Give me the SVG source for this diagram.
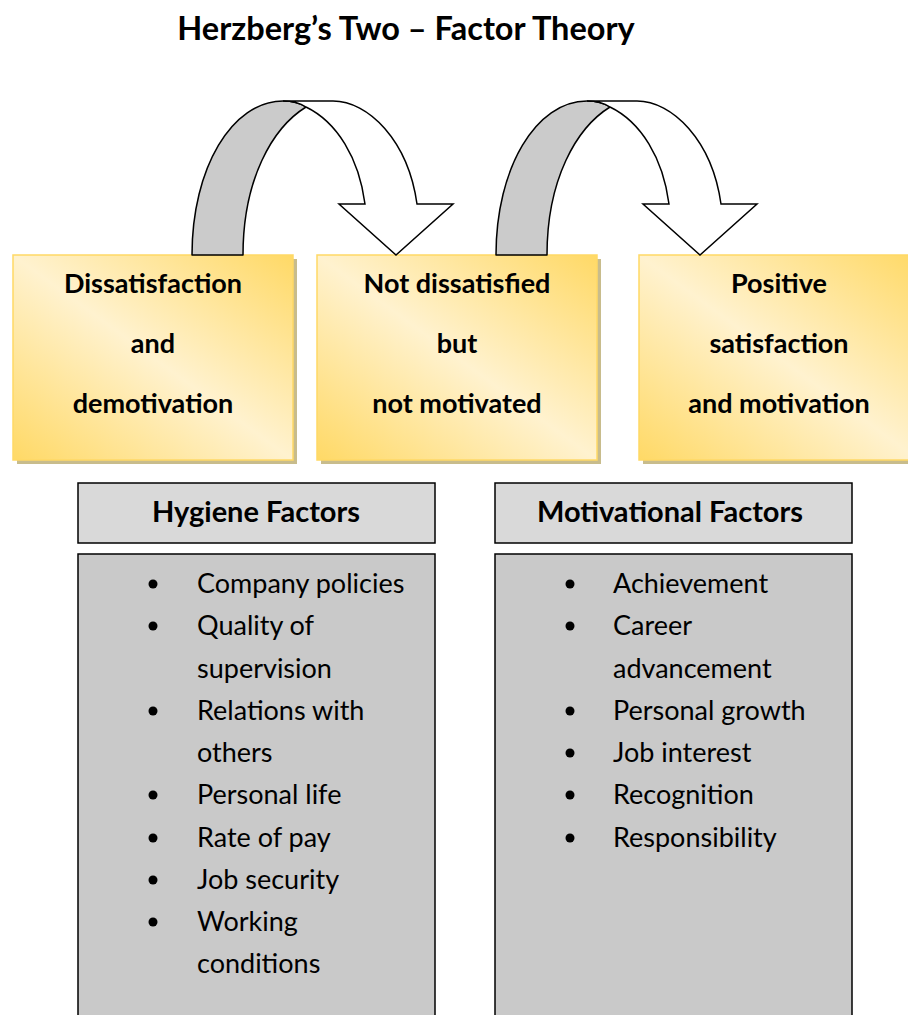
<svg xmlns="http://www.w3.org/2000/svg" width="908" height="1015" viewBox="0 0 908 1015">
<defs>
<linearGradient id="gold" x1="1" y1="0" x2="0" y2="1">
<stop offset="0" stop-color="#ffd966"/>
<stop offset="0.5" stop-color="#fff2cf"/>
<stop offset="1" stop-color="#ffd966"/>
</linearGradient>
<g id="curve">
<path class="band" d="M192,255 C192,168 232,101 283,101 C293,101 300,103 306,107 C272,128 243,180 243,255 Z"/>
<path class="head" d="M283,101 L333,101 C368,101 408,140 417,204 L453,204 L396,255 L339,204 L365,204 C359,158 337,122 306,107 C300,103 293,101 283,101 Z"/>
</g>
</defs>
<style>
.title{font-family:"Lato","Liberation Sans",sans-serif;font-weight:bold;font-size:32.5px;fill:#000}
.stage{font-family:"Lato","Liberation Sans",sans-serif;font-weight:bold;font-size:27px;fill:#000;text-anchor:middle}
.head-t{font-family:"Lato","Liberation Sans",sans-serif;font-weight:bold;font-size:29px;fill:#000;text-anchor:middle}
.item{font-family:"Lato","Liberation Sans",sans-serif;font-size:27px;fill:#000}
.box{fill:url(#gold);stroke:#ffd966;stroke-width:1.5}
.shadow{fill:#c8bc8c}
.hdr{fill:#d9d9d9;stroke:#000;stroke-width:1.5}
.list{fill:#c9c9c9;stroke:#000;stroke-width:1.5}
.band{fill:#cbcbcb;stroke:#000;stroke-width:1.5;stroke-linejoin:round}
.head{fill:#fff;stroke:#000;stroke-width:1.5;stroke-linejoin:miter}
.dot{fill:#000}
</style>
<rect width="908" height="1015" fill="#fff"/>
<text class="title" x="406" y="40" text-anchor="middle">Herzberg’s Two – Factor Theory</text>

<g id="stage1">
<rect class="shadow" x="17" y="259" width="280" height="205"/>
<rect class="box" x="13" y="255" width="280" height="205"/>
<text class="stage" x="153" y="293">Dissatisfaction</text>
<text class="stage" x="153" y="353">and</text>
<text class="stage" x="153" y="413">demotivation</text>
</g>
<g id="stage2">
<rect class="shadow" x="321" y="259" width="280" height="205"/>
<rect class="box" x="317" y="255" width="280" height="205"/>
<text class="stage" x="457" y="293">Not dissatisfied</text>
<text class="stage" x="457" y="353">but</text>
<text class="stage" x="457" y="413">not motivated</text>
</g>
<g id="stage3">
<rect class="shadow" x="643" y="259" width="280" height="205"/>
<rect class="box" x="639" y="255" width="280" height="205"/>
<text class="stage" x="779" y="293">Positive</text>
<text class="stage" x="779" y="353">satisfaction</text>
<text class="stage" x="779" y="413">and motivation</text>
</g>

<g id="connectors">
<use href="#curve"/>
<use href="#curve" transform="translate(304,0)"/>
</g>

<g id="hygiene-header">
<rect class="hdr" x="78" y="483" width="357" height="60"/>
<text class="head-t" x="256" y="522">Hygiene Factors</text>
</g>
<g id="hygiene-list">
<rect class="list" x="78" y="554" width="357" height="480"/>
<circle class="dot" cx="153" cy="584" r="4.5"/><text class="item" x="197" y="593">Company policies</text>
<circle class="dot" cx="153" cy="626" r="4.5"/><text class="item" x="197" y="635">Quality of</text>
<text class="item" x="197" y="678">supervision</text>
<circle class="dot" cx="153" cy="711" r="4.5"/><text class="item" x="197" y="720">Relations with</text>
<text class="item" x="197" y="762">others</text>
<circle class="dot" cx="153" cy="795" r="4.5"/><text class="item" x="197" y="804">Personal life</text>
<circle class="dot" cx="153" cy="838" r="4.5"/><text class="item" x="197" y="847">Rate of pay</text>
<circle class="dot" cx="153" cy="880" r="4.5"/><text class="item" x="197" y="889">Job security</text>
<circle class="dot" cx="153" cy="922" r="4.5"/><text class="item" x="197" y="931">Working</text>
<text class="item" x="197" y="973">conditions</text>
</g>

<g id="motivational-header">
<rect class="hdr" x="495" y="483" width="357" height="60"/>
<text class="head-t" x="670" y="522">Motivational Factors</text>
</g>
<g id="motivational-list">
<rect class="list" x="495" y="554" width="357" height="480"/>
<circle class="dot" cx="570" cy="584" r="4.5"/><text class="item" x="613" y="593">Achievement</text>
<circle class="dot" cx="570" cy="626" r="4.5"/><text class="item" x="613" y="635">Career</text>
<text class="item" x="613" y="678">advancement</text>
<circle class="dot" cx="570" cy="711" r="4.5"/><text class="item" x="613" y="720">Personal growth</text>
<circle class="dot" cx="570" cy="753" r="4.5"/><text class="item" x="613" y="762">Job interest</text>
<circle class="dot" cx="570" cy="795" r="4.5"/><text class="item" x="613" y="804">Recognition</text>
<circle class="dot" cx="570" cy="838" r="4.5"/><text class="item" x="613" y="847">Responsibility</text>
</g>
</svg>
